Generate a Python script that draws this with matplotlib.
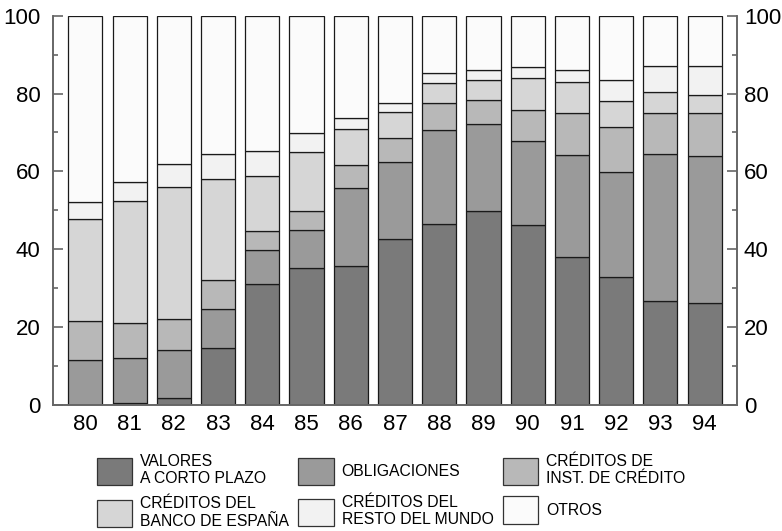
import matplotlib
matplotlib.use("Agg")
import matplotlib.pyplot as plt
import numpy as np

plt.rcParams['font.family'] = ['Liberation Sans', 'DejaVu Sans']

years = ['80', '81', '82', '83', '84', '85', '86', '87', '88', '89', '90', '91', '92', '93', '94']
valores = [0.0, 0.6, 1.8, 14.6, 31.1, 35.2, 35.8, 42.7, 46.5, 49.9, 46.2, 37.9, 33.0, 26.6, 26.1]
obligaciones = [11.6, 11.5, 12.3, 10.1, 8.8, 9.7, 19.9, 19.6, 24.2, 22.2, 21.5, 26.3, 26.9, 37.9, 37.9]
inst_credito = [10.1, 9.0, 7.9, 7.3, 4.8, 4.9, 5.9, 6.4, 7.0, 6.3, 8.0, 10.7, 11.4, 10.4, 10.9]
banco_espana = [26.2, 31.4, 34.1, 26.0, 14.0, 15.1, 9.4, 6.6, 5.0, 5.2, 8.4, 8.1, 6.8, 5.4, 4.8]
resto_mundo = [4.2, 4.7, 5.9, 6.6, 6.5, 5.0, 2.8, 2.4, 2.5, 2.4, 2.7, 3.1, 5.3, 6.8, 7.3]
otros = [47.9, 42.8, 38.0, 35.4, 34.8, 30.1, 26.2, 22.3, 14.8, 14.0, 13.2, 13.9, 16.6, 12.9, 13.0]

labels = ['VALORES\nA CORTO PLAZO', 'OBLIGACIONES', 'CRÉDITOS DE\nINST. DE CRÉDITO',
          'CRÉDITOS DEL\nBANCO DE ESPAÑA', 'CRÉDITOS DEL\nRESTO DEL MUNDO', 'OTROS']
series = [valores, obligaciones, inst_credito, banco_espana, resto_mundo, otros]
colors = ['#7a7a7a', '#9a9a9a', '#b8b8b8', '#d6d6d6', '#f2f2f2', '#fbfbfb']

fig = plt.figure(figsize=(7.82, 5.31), dpi=100)
ax = fig.add_axes([53/782, 1-405/531, (737-53)/782, (405-15.7)/531])

x = np.arange(len(years))
bottom = np.zeros(len(years))
handles = []
for vals, col, lab in zip(series, colors, labels):
    b = ax.bar(x, vals, bottom=bottom, width=0.77, color=col, edgecolor='#1a1a1a',
               linewidth=0.9, label=lab)
    handles.append(b)
    bottom += np.array(vals)

ax.set_xlim(-0.73, 14.73)
ax.set_ylim(0, 100)
ax.set_xticks(x)
ax.set_xticklabels(years)

spine_col = '#666666'
ax2 = ax.twinx()
ax2.set_ylim(0, 100)
for a in (ax, ax2):
    a.set_yticks(np.arange(0, 101, 20))
    a.set_yticks(np.arange(0, 101, 10), minor=True)
    a.spines['top'].set_visible(False)
    for s in ['left', 'right', 'bottom']:
        a.spines[s].set_color(spine_col)
        a.spines[s].set_linewidth(1.2)
    a.tick_params(axis='y', which='both', direction='in', colors=spine_col,
                  labelcolor='black', labelsize=16)
    a.tick_params(axis='y', which='major', length=7.2, width=1.2)
    a.tick_params(axis='y', which='minor', length=3.6, width=1.2)

ax.tick_params(axis='y', which='both', left=True, right=False, pad=9)
ax2.tick_params(axis='y', which='both', left=False, right=True, pad=5)
ax.tick_params(axis='x', length=0, labelsize=16, pad=6.5)

order = [0, 3, 1, 4, 2, 5]
leg = fig.legend([handles[i] for i in order], [labels[i] for i in order],
                 loc='upper center', bbox_to_anchor=(0.5, 1-446/531), ncol=3,
                 frameon=False, fontsize=11.3, handlelength=2.25, handleheight=2.3,
                 handletextpad=0.5, columnspacing=0.6, labelspacing=0.65,
                 borderpad=0.0)
for p in leg.get_patches():
    p.set_edgecolor('#333333')
    p.set_linewidth(0.9)

fig.savefig('out.png', dpi=100)
